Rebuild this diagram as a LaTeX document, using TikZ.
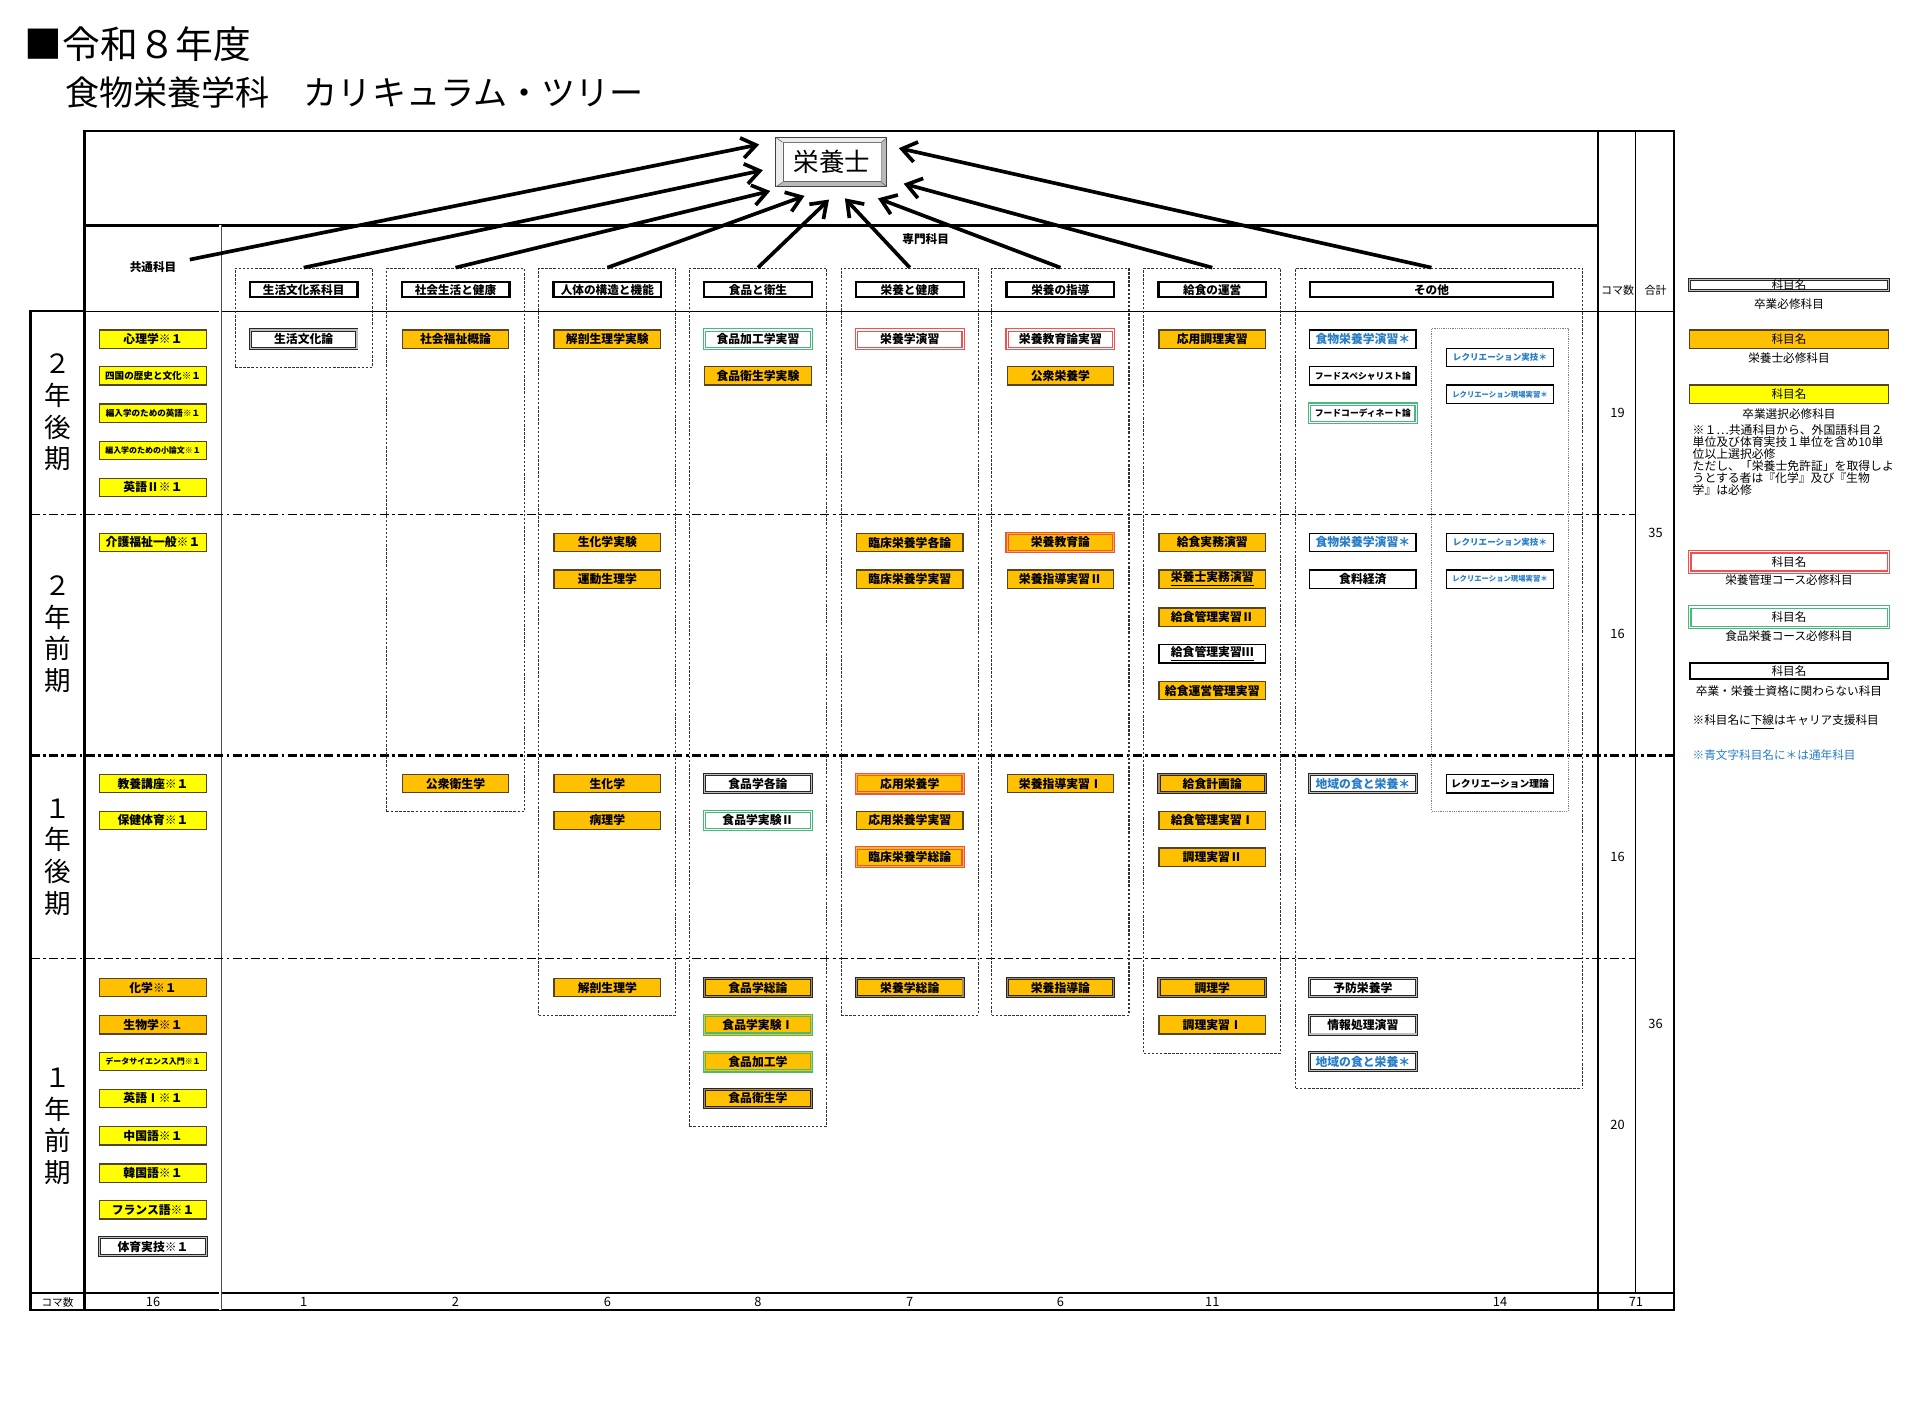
\documentclass[tikz,border=0pt]{standalone}
\usepackage{fontspec}
\setmainfont{Noto Sans CJK JP}
\usepackage{tikz}
\usetikzlibrary{arrows.meta}

\definecolor{kOrange}{RGB}{255,192,0}
\definecolor{kYellow}{RGB}{255,255,0}
\definecolor{kEdge}{RGB}{85,68,30}
\definecolor{kTan}{RGB}{170,140,90}
\definecolor{kRed}{RGB}{240,80,80}
\definecolor{kGreen}{RGB}{70,185,125}
\definecolor{kBlue}{RGB}{40,125,200}

\newcommand\upx{0.6pt}
\newcommand\fsz[1]{\fontsize{#1}{#1}\selectfont}

\tikzset{
  kbox/.style={minimum width=87*\upx, minimum height=15*\upx, inner sep=0pt,
    font=\fsz{5.8}\bfseries, line width=0.6pt},
  sm/.style={font=\fsz{#1}\bfseries},
  hissu/.style={kbox, fill=white, draw=black!85, double=#1, double distance=0.6pt, line width=0.45pt},
  hissu/.default=gray!50,
  eiyo/.style={kbox, fill=kOrange, draw=kEdge},
  sentaku/.style={kbox, fill=kYellow, draw=kEdge},
  kanri/.style={kbox, fill=#1, draw=kRed, double=#1, double distance=0.55pt, line width=0.55pt},
  kanri/.default=white,
  shoku/.style={kbox, fill=#1, draw=kGreen, double=#1, double distance=0.55pt, line width=0.55pt},
  shoku/.default=white,
  sonota/.style={kbox, fill=white, draw=black, line width=0.7pt},
  ao/.style={text=kBlue},
  orhissu/.style={hissu=kTan, fill=kOrange},
  midasi/.style={minimum width=88*\upx, minimum height=12.5*\upx, inner sep=0pt, fill=white,
    draw=black, line width=1.1pt, font=\fsz{5.7}\bfseries},
  gun/.style={draw=black!80, line width=0.5pt, dash pattern=on 1.2pt off 0.8pt, inner sep=0pt,
    minimum width=112*\upx},
  kugiri/.style={line width=0.6pt, dash pattern=on 4.4pt off 1.6pt on 1.4pt off 1.6pt},
  waku/.style={line width=1.2pt},
  ya/.style={line width=1.8pt, -{Straight Barb[length=7pt,width=10pt]}},
  num/.style={font=\fsz{6.3}, inner sep=0pt},
  lbl/.style={font=\fsz{5.7}\bfseries, inner sep=0pt},
  hanrei/.style={minimum width=162*\upx, font=\fsz{5.7}}
}

\begin{document}
\begin{tikzpicture}[x=\upx, y=-\upx]
\path[use as bounding box, fill=white] (0,0) rectangle (1568,1161);

% title
\node[anchor=west, inner sep=0pt, font=\fsz{18.5}] (title) at (20,36) {■令和８年度};
\node[anchor=west, inner sep=0pt, font=\fsz{16.7}] (subtitle) at (53,75.5) {食物栄養学科　カリキュラム・ツリー};

% frame
\draw[waku] (69,254) -- (69,107) -- (1367,107) -- (1367,1070) -- (25,1070) -- (25,254) -- cycle;
\draw[waku] (69,254) -- (69,1070);
\draw[waku] (69,184) -- (1305,184);
\draw[waku] (1305,107) -- (1305,1070);
\draw[waku] (25,1056) -- (1367,1056);
\draw[line width=0.5pt] (69,254) -- (1367,254);
\draw[line width=0.5pt] (1336,107) -- (1336,1056);
\draw[black!70, line width=0.4pt, double, double distance=0.9pt] (180,184) -- (180,1070);
\draw[kugiri] (25,420) -- (1336,420);
\draw[kugiri, line width=1.1pt] (25,617) -- (1367,617);
\draw[kugiri] (25,783) -- (1336,783);

% semesters
\node[font=\fontsize{13}{15.5}\selectfont, align=center, inner sep=0pt] (ki1) at (47,337) {２\\年\\後\\期};
\node[font=\fontsize{13}{15.5}\selectfont, align=center, inner sep=0pt] (ki2) at (47,518) {２\\年\\前\\期};
\node[font=\fontsize{13}{15.5}\selectfont, align=center, inner sep=0pt] (ki3) at (47,700) {１\\年\\後\\期};
\node[font=\fontsize{13}{15.5}\selectfont, align=center, inner sep=0pt] (ki4) at (47,920) {１\\年\\前\\期};

% header texts
\node[lbl] (kyotsu) at (125,218) {共通科目};
\node[lbl] (senmon) at (756,195) {専門科目};
\node[lbl, font=\fsz{5.4}] (komah) at (1321,237) {コマ数};
\node[lbl, font=\fsz{5.4}] (gokeih) at (1352,237) {合計};

% groups
\node[gun, minimum height=81*\upx] (g1) at (248,259.5) {};
\node[gun, minimum height=444*\upx] (g2) at (372,441) {};
\node[gun, minimum height=610*\upx] (g3) at (496,524) {};
\node[gun, minimum height=701*\upx] (g4) at (619,569.5) {};
\node[gun, minimum height=610*\upx] (g5) at (743,524) {};
\node[gun, minimum height=610*\upx] (g6) at (866,524) {};
\node[gun, minimum height=641*\upx] (g7) at (990,539.5) {};
\node[gun, minimum height=670*\upx, minimum width=234.5*\upx] (g8) at (1175.5,554) {};
\node[gun, draw=gray, dash pattern=on 0.6pt off 0.5pt, minimum height=394.5*\upx, minimum width=111.5*\upx] (g9) at (1224.8,465.5) {};

\node[midasi] (h1) at (248,236.6) {生活文化系科目};
\node[midasi] (h2) at (372,236.6) {社会生活と健康};
\node[midasi] (h3) at (496,236.6) {人体の構造と機能};
\node[midasi] (h4) at (619,236.6) {食品と衛生};
\node[midasi] (h5) at (743,236.6) {栄養と健康};
\node[midasi] (h6) at (866,236.6) {栄養の指導};
\node[midasi] (h7) at (990,236.6) {給食の運営};
\node[midasi, minimum width=198*\upx] (h8) at (1169,236.6) {その他};

% 共通科目
\node[sentaku] (c1) at (125,277) {心理学※１};
\node[sentaku, sm=4.7] (c2) at (125,307) {四国の歴史と文化※１};
\node[sentaku, sm=4.2] (c3) at (125,337.5) {編入学のための英語※１};
\node[sentaku, sm=3.9] (c4) at (125,368) {編入学のための小論文※１};
\node[sentaku] (c5) at (125,398) {英語Ⅱ※１};
\node[sentaku] (c6) at (125,443) {介護福祉一般※１};
\node[sentaku] (c7) at (125,640) {教養講座※１};
\node[sentaku] (c8) at (125,670) {保健体育※１};
\node[eiyo] (c9) at (125,806.5) {化学※１};
\node[eiyo] (c10) at (125,837) {生物学※１};
\node[sentaku, sm=3.9] (c11) at (125,867) {データサイエンス入門※１};
\node[sentaku] (c12) at (125,897) {英語Ⅰ※１};
\node[sentaku] (c13) at (125,927.5) {中国語※１};
\node[sentaku] (c14) at (125,958) {韓国語※１};
\node[sentaku] (c15) at (125,988) {フランス語※１};
\node[hissu] (c16) at (125,1018) {体育実技※１};

% 生活文化系科目, 社会生活と健康
\node[hissu] (s1) at (248,277) {生活文化論};
\node[eiyo] (s2) at (372,277) {社会福祉概論};
\node[eiyo] (s3) at (372,640) {公衆衛生学};

% 人体の構造と機能
\node[eiyo] (j1) at (496,277) {解剖生理学実験};
\node[eiyo] (j2) at (496,443) {生化学実験};
\node[eiyo] (j3) at (496,473) {運動生理学};
\node[eiyo] (j4) at (496,640) {生化学};
\node[eiyo] (j5) at (496,670) {病理学};
\node[eiyo] (j6) at (496,806.5) {解剖生理学};

% 食品と衛生
\node[shoku] (f1) at (619,277) {食品加工学実習};
\node[eiyo] (f2) at (619,307) {食品衛生学実験};
\node[hissu] (f3) at (619,640) {食品学各論};
\node[shoku] (f4) at (619,670) {食品学実験Ⅱ};
\node[orhissu] (f5) at (619,806.5) {食品学総論};
\node[shoku=kOrange] (f6) at (619,837) {食品学実験Ⅰ};
\node[shoku=kOrange] (f7) at (619,867) {食品加工学};
\node[orhissu] (f8) at (619,897) {食品衛生学};

% 栄養と健康
\node[kanri] (k1) at (743,277) {栄養学演習};
\node[eiyo] (k2) at (743,443) {臨床栄養学各論};
\node[eiyo] (k3) at (743,473) {臨床栄養学実習};
\node[kanri=kOrange] (k4) at (743,640) {応用栄養学};
\node[eiyo] (k5) at (743,670) {応用栄養学実習};
\node[kanri=kOrange] (k6) at (743,700) {臨床栄養学総論};
\node[orhissu] (k7) at (743,806.5) {栄養学総論};

% 栄養の指導
\node[kanri] (d1) at (866,277) {栄養教育論実習};
\node[eiyo] (d2) at (866,307) {公衆栄養学};
\node[kanri=kOrange] (d3) at (866,443) {栄養教育論};
\node[eiyo] (d4) at (866,473) {栄養指導実習Ⅱ};
\node[eiyo] (d5) at (866,640) {栄養指導実習Ⅰ};
\node[orhissu] (d6) at (866,806.5) {栄養指導論};

% 給食の運営
\node[eiyo] (m1) at (990,277) {応用調理実習};
\node[eiyo] (m2) at (990,443) {給食実務演習};
\node[eiyo] (m3) at (990,473) {\underline{栄養士実務演習}};
\node[eiyo] (m4) at (990,504) {給食管理実習Ⅱ};
\node[sonota] (m5) at (990,534) {\underline{給食管理実習Ⅲ}};
\node[eiyo] (m6) at (990,564) {給食運営管理実習};
\node[orhissu] (m7) at (990,640) {給食計画論};
\node[eiyo] (m8) at (990,670) {給食管理実習Ⅰ};
\node[eiyo] (m9) at (990,700) {調理実習Ⅱ};
\node[orhissu] (m10) at (990,806.5) {調理学};
\node[eiyo] (m11) at (990,837) {調理実習Ⅰ};

% その他
\node[sonota, ao] (o1) at (1113,277) {食物栄養学演習＊};
\node[sonota, sm=4.3] (o2) at (1113,307) {フードスペシャリスト論};
\node[shoku, sm=4.3] (o3) at (1113,337.5) {フードコーディネート論};
\node[sonota, ao] (o4) at (1113,443) {食物栄養学演習＊};
\node[sonota] (o5) at (1113,473) {食料経済};
\node[hissu, ao] (o6) at (1113,640) {地域の食と栄養＊};
\node[hissu] (o7) at (1113,806.5) {予防栄養学};
\node[hissu] (o8) at (1113,837) {情報処理演習};
\node[hissu, ao] (o9) at (1113,867) {地域の食と栄養＊};
\node[sonota, ao, sm=4.2] (r1) at (1225,292) {レクリエーション実技＊};
\node[sonota, ao, sm=3.6] (r2) at (1225,322) {レクリエーション現場実習＊};
\node[sonota, ao, sm=4.2] (r3) at (1225,443) {レクリエーション実技＊};
\node[sonota, ao, sm=3.6] (r4) at (1225,473) {レクリエーション現場実習＊};
\node[sonota, sm=4.8] (r5) at (1225,640) {レクリエーション理論};

% counts
\node[num] (n1) at (1321,337) {19};
\node[num] (n2) at (1321,518) {16};
\node[num] (n3) at (1321,700) {16};
\node[num] (n4) at (1321,919) {20};
\node[num] (n5) at (1352,435) {35};
\node[num] (n6) at (1352,836) {36};
\node[num, font=\fsz{5.2}] (komab) at (47,1063.5) {コマ数};
\foreach \xx/\vv [count=\i] in {125/16,248/1,372/2,496/6,619/8,743/7,866/6,990/11,1225/14,1336/71}
  \node[num] (bot\i) at (\xx,1063.5) {\vv};

% 栄養士
\node[minimum width=90*\upx, minimum height=39.5*\upx, inner sep=0pt] (eiyoshi) at (679,132.5) {};
\node[minimum width=80*\upx, minimum height=32*\upx, inner sep=0pt, fill=white, draw=black!60,
  line width=0.4pt, font=\fsz{12.5}] (eiin) at (679.5,132.5) {栄養士};
\fill[gray!55] (eiyoshi.north east) -- (eiyoshi.south east) -- (eiyoshi.south west)
  -- (eiin.south west) -- (eiin.south east) -- (eiin.north east) -- cycle;
\fill[gray!15] (eiyoshi.north east) -- (eiyoshi.north west) -- (eiyoshi.south west)
  -- (eiin.south west) -- (eiin.north west) -- (eiin.north east) -- cycle;
\draw[black!75, line width=0.5pt] (eiyoshi.north west) rectangle (eiyoshi.south east);
\draw[black!60, line width=0.3pt] (eiyoshi.north west) -- (eiin.north west)
  (eiyoshi.north east) -- (eiin.north east) (eiyoshi.south west) -- (eiin.south west)
  (eiyoshi.south east) -- (eiin.south east);

% arrows
\coordinate (kyo) at (155,212);
\coordinate (t1) at (620,118);
\coordinate (t2) at (623,139);
\coordinate (t3) at (629,156);
\coordinate (t4) at (657,160);
\coordinate (t5) at (677,163);
\coordinate (t6) at (690,162);
\coordinate (t7) at (717,162);
\coordinate (t8) at (738,150);
\coordinate (t9) at (734,121);
\draw[ya] (kyo) -- (t1);
\draw[ya] (g1.north) -- (t2);
\draw[ya] (g2.north) -- (t3);
\draw[ya] (g3.north) -- (t4);
\draw[ya] (g4.north) -- (t5);
\draw[ya] (g5.north) -- (t6);
\draw[ya] (g6.north) -- (t7);
\draw[ya] (g7.north) -- (t8);
\draw[ya] (h8.north |- g8.north) -- (t9);

% legend
\node[hissu, hanrei, minimum height=9*\upx] (L1) at (1461,232.5) {科目名};
\node[lbl, font=\fsz{5.7}] (T1) at (1461,248.5) {卒業必修科目};
\node[eiyo, hanrei] (L2) at (1461,277) {科目名};
\node[lbl, font=\fsz{5.7}] (T2) at (1461,292.5) {栄養士必修科目};
\node[sentaku, hanrei] (L3) at (1461,322) {科目名};
\node[lbl, font=\fsz{5.7}] (T3) at (1461,338) {卒業選択必修科目};
\node[anchor=north west, inner sep=0pt, align=left, font=\fontsize{5.8}{5.82}\selectfont] (note1) at (1382,346.5)
  {※１…共通科目から、外国語科目２\\単位及び体育実技１単位を含め10単\\位以上選択必修\\ただし、「栄養士免許証」を取得しよ\\うとする者は『化学』及び『生物\\学』は必修};
\node[kanri, hanrei, minimum height=16.5*\upx] (L4) at (1461,459) {科目名};
\node[lbl, font=\fsz{5.7}] (T4) at (1461,474) {栄養管理コース必修科目};
\node[shoku, hanrei, minimum height=16.5*\upx] (L5) at (1461,504) {科目名};
\node[lbl, font=\fsz{5.7}] (T5) at (1461,519.5) {食品栄養コース必修科目};
\node[sonota, hanrei, minimum height=13*\upx] (L6) at (1461,548) {科目名};
\node[lbl, font=\fsz{5.7}] (T6) at (1461,564) {卒業・栄養士資格に関わらない科目};
\node[anchor=west, inner sep=0pt, font=\fsz{5.7}] (note2) at (1382,589.5) {※科目名に\underline{下線}はキャリア支援科目};
\node[anchor=west, inner sep=0pt, font=\fsz{5.7}, text=kBlue] (note3) at (1382,616.5) {※青文字科目名に＊は通年科目};
\end{tikzpicture}
\end{document}
